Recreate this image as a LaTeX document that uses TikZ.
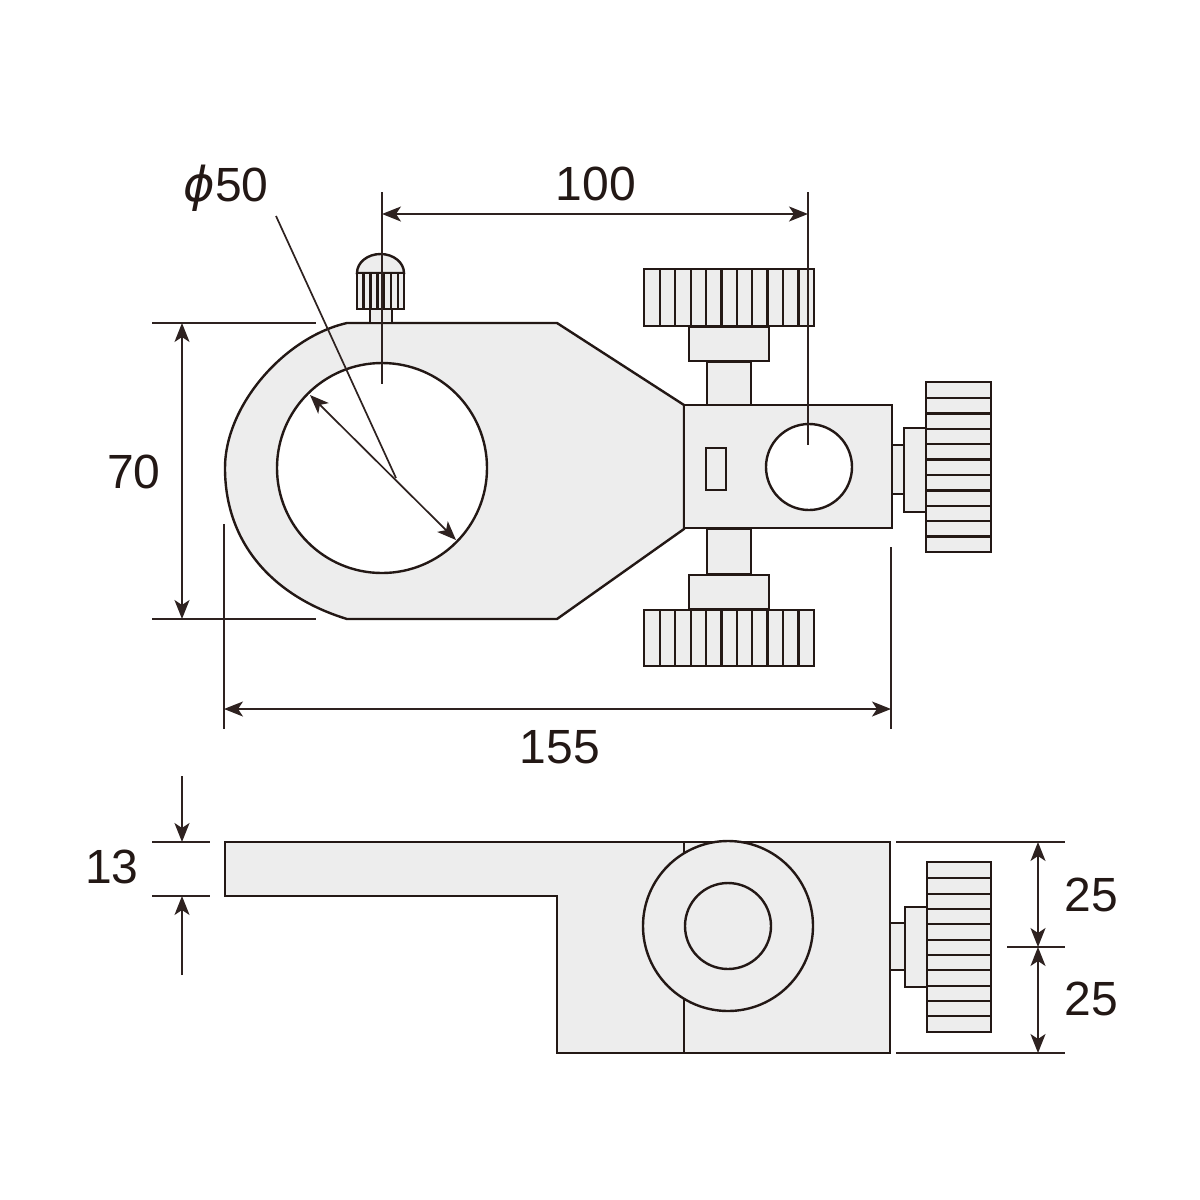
\documentclass[tikz,border=0pt]{standalone}
\usepackage{fontspec}
\setmainfont{Liberation Sans}
\newfontfamily\phifont[ItalicFont={DejaVu Sans Oblique}]{DejaVu Sans}
\usetikzlibrary{arrows.meta}
\definecolor{ink}{HTML}{231815}
\definecolor{dimc}{HTML}{2E2220}
\definecolor{body}{HTML}{EDEDED}
\tikzset{
  part/.style={draw=ink,line width=2.4pt,fill=body,line join=miter},
  hole/.style={draw=ink,line width=2.4pt,fill=white},
  knurl/.style={draw=ink,line width=2.4pt},
  dimline/.style={draw=dimc,line width=1.7pt},
  tip/.tip={Stealth[length=19pt,width=15pt,inset=5pt]},
  dimtwo/.style={dimline,{tip}-{tip}},
  dimone/.style={dimline,-{tip}},
  label/.style={text=ink,font=\fontsize{48}{48}\selectfont,inner sep=0pt}
}
\begin{document}
\begin{tikzpicture}[x=1pt,y=-1pt]
\useasboundingbox[fill=white] (0,0) rectangle (1200,1200);
% top view: clamp body
\draw[part] (347,323) -- (557,323) -- (684,405) -- (684,529) -- (557,619) -- (347,619)
  .. controls (275,597) and (225,545) .. (225,468)
  .. controls (225,405) and (285,337) .. (347,323) -- cycle;
\draw[hole] (382,468) circle[radius=105pt];
% side block
\draw[part] (684,405) rectangle (892,528);
\draw[hole] (809,467) circle[radius=43pt];
\draw[part] (706,448) rectangle (726,490);
% small top screw
\draw[part] (370,309) rectangle (392,323);
\draw[part] (357,273) arc[start angle=180,end angle=0,x radius=23.5pt,y radius=19pt] -- cycle;
\draw[part] (357,273) rectangle (404,309);
\foreach \x in {363.5,370.5,377.5,384,391,397.7} \draw[knurl] (\x,273) -- (\x,309);
% top knob
\draw[part] (707,362) rectangle (751,405);
\draw[part] (689,327) rectangle (769,361);
\draw[part] (644,269) rectangle (814,326);
\foreach \x in {659.7,675,690.7,706,721.3,736.7,752,767.3,782.7,798.3} \draw[knurl] (\x,269) -- (\x,326);
% bottom knob
\draw[part] (707,529) rectangle (751,574);
\draw[part] (689,575) rectangle (769,609);
\draw[part] (644,610) rectangle (814,666);
\foreach \x in {659.7,675,690.7,706,721.3,736.7,752,767.3,782.7,798.3} \draw[knurl] (\x,610) -- (\x,666);
% right knob
\draw[part] (892,445) rectangle (904,494);
\draw[part] (904,428) rectangle (926,512);
\draw[part] (926,382) rectangle (991,552);
\foreach \y in {398,413.3,428.7,444,459.3,475,490.3,505.7,521,536.3} \draw[knurl] (926,\y) -- (991,\y);
% lower view
\draw[part] (225,842) -- (890,842) -- (890,1053) -- (557,1053) -- (557,896) -- (225,896) -- cycle;
\draw[knurl] (684,842) -- (684,1053);
\draw[part] (728,926) circle[radius=85pt];
\draw[part] (728,926) circle[radius=43pt];
\draw[part] (890,923) rectangle (905,970);
\draw[part] (905,907) rectangle (927,987);
\draw[part] (927,862) rectangle (991,1032);
\foreach \y in {878,894,909,924,940,955,970,986,1001,1016} \draw[knurl] (927,\y) -- (991,\y);
% dimensions
\coordinate (e100a) at (382,214); \coordinate (e100b) at (808,214);
\draw[dimline] (382,192) -- (382,384);
\draw[dimline] (808,192) -- (808,445);
\draw[dimtwo] (e100a) -- (e100b);
\node[label] (t100) at (596,184) {100};
\node[label,anchor=base] (tphi) at (226,201) {{\phifont\itshape\symbol{"03D5}}50};
\coordinate (lead) at (396,478);
\draw[dimline] (276,216) -- (lead);
\coordinate (da) at (310,395); \coordinate (db) at (456,540);
\draw[dimtwo] (da) -- (db);
\draw[dimline] (152,323) -- (316,323);
\draw[dimline] (152,619) -- (316,619);
\coordinate (a70) at (182,323); \coordinate (b70) at (182,619);
\draw[dimtwo] (a70) -- (b70);
\node[label] (t70) at (134,472) {70};
\draw[dimline] (224,524) -- (224,729);
\draw[dimline] (891,547) -- (891,729);
\coordinate (a155) at (224,709); \coordinate (b155) at (891,709);
\draw[dimtwo] (a155) -- (b155);
\node[label] (t155) at (560,747) {155};
\draw[dimline] (152,842) -- (210,842);
\draw[dimline] (152,896) -- (210,896);
\coordinate (a13) at (182,776); \coordinate (b13) at (182,842);
\coordinate (c13) at (182,975); \coordinate (d13) at (182,896);
\draw[dimone] (a13) -- (b13);
\draw[dimone] (c13) -- (d13);
\node[label] (t13) at (112,867) {13};
\draw[dimline] (896,842) -- (1065,842);
\draw[dimline] (896,1053) -- (1065,1053);
\draw[dimline] (1007,947) -- (1065,947);
\coordinate (a25) at (1038,842); \coordinate (m25) at (1038,947); \coordinate (b25) at (1038,1053);
\draw[dimtwo] (a25) -- (m25);
\draw[dimtwo] (m25) -- (b25);
\node[label] (t25a) at (1091,895) {25};
\node[label] (t25b) at (1091,999) {25};
\end{tikzpicture}
\end{document}
